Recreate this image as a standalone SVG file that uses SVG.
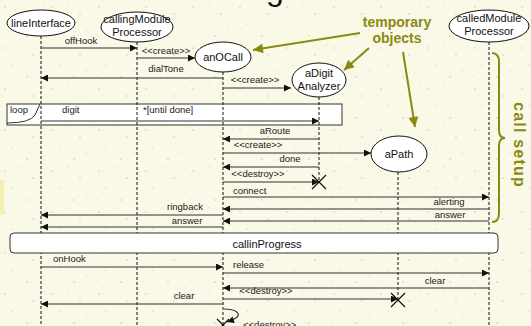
<svg xmlns="http://www.w3.org/2000/svg" width="531" height="326" viewBox="0 0 531 326">
  <defs>
    <pattern id="speckle" width="47" height="41" patternUnits="userSpaceOnUse">
      <rect width="47" height="41" fill="#faf8e6"/>
      <circle cx="5" cy="7" r="0.7" fill="#9a9a8c" opacity="0.6"/>
      <circle cx="21" cy="3" r="0.5" fill="#8a8a80" opacity="0.5"/>
      <circle cx="33" cy="14" r="0.8" fill="#a0a090" opacity="0.5"/>
      <circle cx="12" cy="24" r="0.6" fill="#909088" opacity="0.6"/>
      <circle cx="40" cy="30" r="0.5" fill="#888" opacity="0.5"/>
      <circle cx="27" cy="36" r="0.9" fill="#b0b0a0" opacity="0.45"/>
      <circle cx="3" cy="35" r="0.5" fill="#999" opacity="0.5"/>
      <circle cx="44" cy="5" r="0.6" fill="#a8a898" opacity="0.5"/>
    </pattern>
    <marker id="ah" viewBox="0 0 10 10" refX="10" refY="5" markerWidth="8" markerHeight="7" orient="auto" markerUnits="userSpaceOnUse">
      <path d="M0,0 L10,5 L0,10 z" fill="#111"/>
    </marker>
    <marker id="oh" viewBox="0 0 10 10" refX="10" refY="5" markerWidth="11" markerHeight="10" orient="auto" markerUnits="userSpaceOnUse">
      <path d="M0,0 L10,5 L0,10 z" fill="#8a8a12"/>
    </marker>
    <style>
      .obj { fill: #fff; stroke: #111; stroke-width: 1; }
      .life { stroke: #111; stroke-width: 1; stroke-dasharray: 3 2; fill: none; }
      .msg { stroke: #333; stroke-width: 1.2; fill: none; marker-end: url(#ah); }
      .kill { stroke: #111; stroke-width: 1.2; }
      .nl { font-family: "Liberation Sans", Arial, sans-serif; font-size: 11px; fill: #111; text-anchor: middle; }
      .ml { font-family: "Liberation Sans", Arial, sans-serif; font-size: 9.5px; fill: #222; }
      .mid { text-anchor: middle; }
      .note { font-family: "Liberation Sans", Arial, sans-serif; font-size: 14px; font-weight: bold; fill: #8a8a12; text-anchor: middle; }
      .olive { stroke: #8a8a12; stroke-width: 2; fill: none; }
      .frame { fill: #fff; stroke: #333; stroke-width: 1; }
    </style>
  </defs>

  <!-- paper -->
  <rect width="531" height="326" fill="url(#speckle)"/>
  <rect x="0" y="180" width="4" height="35" fill="#f2ea9a" opacity="0.7"/>

  <!-- heading, mostly above the top edge -->
  <text x="218" y="0" font-family="Liberation Sans, Arial, sans-serif" font-size="32" fill="#111">Diagram</text>

  <!-- loop combined fragment -->
  <g id="loop">
    <rect class="frame" x="7" y="104" width="335" height="21"/>
    <path d="M40,104 L35,115 Q30,123 7,123" fill="none" stroke="#333" stroke-width="1"/>
    <text class="ml" x="10" y="113">loop</text>
  </g>

  <!-- lifelines -->
  <g id="lifelines">
    <line class="life" x1="41" y1="36" x2="41" y2="326"/>
    <line class="life" x1="137" y1="42" x2="137" y2="326"/>
    <line class="life" x1="223" y1="72" x2="223" y2="326"/>
    <line class="life" x1="319" y1="97" x2="319" y2="182"/>
    <line class="life" x1="398" y1="172" x2="398" y2="300"/>
    <line class="life" x1="489" y1="42" x2="489" y2="326"/>
  </g>

  <!-- interaction state -->
  <g id="callinProgress">
    <rect class="frame" x="10" y="233" width="488" height="20" rx="4"/>
    <text class="nl" x="267" y="248">callinProgress</text>
  </g>

  <!-- objects -->
  <g id="lineInterface">
    <ellipse class="obj" cx="41" cy="23" rx="34" ry="13"/>
    <text class="nl" x="41" y="27">lineInterface</text>
  </g>
  <g id="callingModuleProcessor">
    <ellipse class="obj" cx="137" cy="27" rx="36" ry="15"/>
    <text class="nl" x="137" y="23">callingModule</text>
    <text class="nl" x="137" y="36">Processor</text>
  </g>
  <g id="anOCall">
    <ellipse class="obj" cx="223" cy="57" rx="28" ry="15"/>
    <text class="nl" x="223" y="61">anOCall</text>
  </g>
  <g id="aDigitAnalyzer">
    <ellipse class="obj" cx="319" cy="80" rx="27" ry="17"/>
    <text class="nl" x="319" y="77">aDigit</text>
    <text class="nl" x="319" y="90">Analyzer</text>
  </g>
  <g id="aPath">
    <ellipse class="obj" cx="399" cy="154" rx="28" ry="18"/>
    <text class="nl" x="399" y="158">aPath</text>
  </g>
  <g id="calledModuleProcessor">
    <ellipse class="obj" cx="489" cy="26" rx="40" ry="16"/>
    <text class="nl" x="489" y="22">calledModule</text>
    <text class="nl" x="489" y="35">Processor</text>
  </g>

  <!-- messages -->
  <g id="connectors">
    <line class="msg" x1="41" y1="48" x2="137" y2="48"/>
    <text class="ml mid" x="81" y="44">offHook</text>

    <line class="msg" x1="137" y1="58" x2="195" y2="58"/>
    <text class="ml mid" x="166" y="54">&lt;&lt;create&gt;&gt;</text>

    <line class="msg" x1="223" y1="78" x2="41" y2="78"/>
    <text class="ml mid" x="166" y="72">dialTone</text>

    <line class="msg" x1="223" y1="88" x2="291" y2="88"/>
    <text class="ml mid" x="255" y="83">&lt;&lt;create&gt;&gt;</text>

    <line class="msg" x1="41" y1="121" x2="319" y2="121"/>
    <text class="ml" x="62" y="113">digit</text>
    <text class="ml" x="143" y="113">*[until done]</text>

    <line class="msg" x1="319" y1="139" x2="223" y2="139"/>
    <text class="ml mid" x="275" y="134">aRoute</text>

    <line class="msg" x1="223" y1="153" x2="371" y2="153"/>
    <text class="ml mid" x="258" y="148">&lt;&lt;create&gt;&gt;</text>

    <line class="msg" x1="319" y1="167" x2="223" y2="167"/>
    <text class="ml mid" x="290" y="162">done</text>

    <line class="msg" x1="223" y1="182" x2="319" y2="182"/>
    <text class="ml mid" x="258" y="177">&lt;&lt;destroy&gt;&gt;</text>
    <path class="kill" d="M312,175 L326,189 M326,175 L312,189"/>

    <line class="msg" x1="223" y1="197" x2="489" y2="197"/>
    <text class="ml" x="233" y="194">connect</text>

    <line class="msg" x1="489" y1="209" x2="223" y2="209"/>
    <text class="ml mid" x="449" y="205">alerting</text>

    <line class="msg" x1="223" y1="215" x2="41" y2="215"/>
    <text class="ml mid" x="185" y="210">ringback</text>

    <line class="msg" x1="489" y1="221" x2="223" y2="221"/>
    <text class="ml mid" x="450" y="218">answer</text>

    <line class="msg" x1="223" y1="227" x2="41" y2="227"/>
    <text class="ml mid" x="187" y="224">answer</text>

    <line class="msg" x1="41" y1="267" x2="223" y2="267"/>
    <text class="ml" x="53" y="262">onHook</text>

    <line class="msg" x1="223" y1="273" x2="489" y2="273"/>
    <text class="ml" x="233" y="268">release</text>

    <line class="msg" x1="489" y1="288" x2="223" y2="288"/>
    <text class="ml mid" x="435" y="284">clear</text>

    <line class="msg" x1="223" y1="299" x2="398" y2="299"/>
    <text class="ml mid" x="266" y="294">&lt;&lt;destroy&gt;&gt;</text>
    <path class="kill" d="M391,293 L405,307 M405,293 L391,307"/>

    <line class="msg" x1="223" y1="304" x2="41" y2="304"/>
    <text class="ml mid" x="184" y="299">clear</text>

    <path class="msg" d="M224,309 C236,309 242,314 236,318 C233,320 230,321 227,322"/>
    <text class="ml" x="243" y="328">&lt;&lt;destroy&gt;&gt;</text>
    <path class="kill" d="M217,319 L229,331 M229,319 L217,331"/>
  </g>

  <!-- annotation: temporary objects -->
  <g id="temporaryObjects">
    <text class="note" x="397" y="27">temporary</text>
    <text class="note" x="397" y="43">objects</text>
    <line class="olive" x1="360" y1="33" x2="253" y2="50" marker-end="url(#oh)"/>
    <line class="olive" x1="369" y1="48" x2="344" y2="70" marker-end="url(#oh)"/>
    <line class="olive" x1="403" y1="52" x2="415" y2="127" marker-end="url(#oh)"/>
  </g>

  <!-- annotation: call setup brace -->
  <g id="callSetup">
    <path class="olive" d="M492,53 Q499,53 499,62 L499,130 Q499,138 505,138 Q499,138 499,146 L499,213 Q499,222 492,222"/>
    <text class="note" transform="translate(514,145) rotate(90)" style="font-size:16px" letter-spacing="1.2">call setup</text>
  </g>
</svg>
